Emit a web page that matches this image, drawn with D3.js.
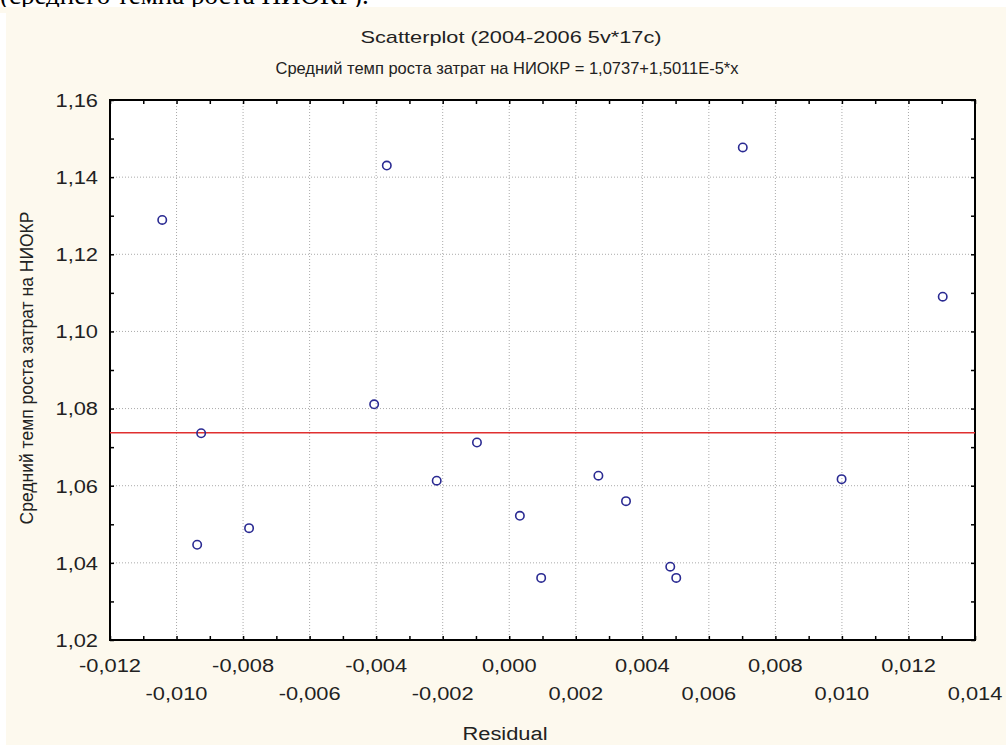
<!DOCTYPE html>
<html>
<head>
<meta charset="utf-8">
<script src="https://cdn.jsdelivr.net/npm/d3@7"></script>
<style>
  html, body { margin: 0; padding: 0; background: #fff; }
  svg { display: block; }
</style>
</head>
<body>
<svg id="chart" width="1006" height="745"></svg>
<script>
// residuals vs mean growth rate of R&D spending, 17 cases
const residuals = [
  -0.01043, -0.00368, -0.00926, -0.00938, -0.00782, -0.00406, -0.00218, -0.00097,
   0.00032,  0.00096,  0.00268,  0.00351,  0.00484,  0.00502,  0.00999,  0.00702, 0.01303
];
const growth = [
  1.1289, 1.1430, 1.0736, 1.0447, 1.0490, 1.0811, 1.0613, 1.0712,
  1.0522, 1.0361, 1.0626, 1.0560, 1.0390, 1.0361, 1.0617, 1.1477, 1.1090
];
const xTicks = [-0.012, -0.010, -0.008, -0.006, -0.004, -0.002, 0, 0.002, 0.004, 0.006, 0.008, 0.010, 0.012, 0.014];
const yTicks = [1.02, 1.04, 1.06, 1.08, 1.10, 1.12, 1.14, 1.16];
const fitA = 1.0737, fitB = 1.5011e-5;

const svg = d3.select("#chart");
const pLeft = 110, pRight = 975, pTop = 100, pBottom = 640;

const x = d3.scaleLinear().domain([-0.012, 0.014]).range([pLeft, pRight]);
const y = d3.scaleLinear().domain([1.02, 1.16]).range([pBottom, pTop]);
const comma = (v, n) => v.toFixed(n).replace(".", ",").replace("-0,000", "0,000");

// beige page background with a white strip at the very top / left
svg.append("rect").attr("x", 6).attr("y", 7).attr("width", 1000).attr("height", 738).attr("fill", "#fdf9ee");

// cut-off line of document text above the picture
svg.append("text")
  .attr("x", 0).attr("y", 4)
  .attr("font-family", "'Liberation Serif', serif")
  .attr("font-size", 27)
  .attr("fill", "#000")
  .text("(среднего темпа роста НИОКР).");
svg.append("rect").attr("x", 0).attr("y", 7).attr("width", 1006).attr("height", 6).attr("fill", "#fdf9ee");

// plot area
svg.append("rect").attr("x", pLeft).attr("y", pTop).attr("width", pRight - pLeft).attr("height", pBottom - pTop).attr("fill", "#fff");

// grid
svg.append("g").selectAll("line")
  .data(xTicks.slice(1, -1))
  .join("line")
  .attr("x1", d => x(d)).attr("x2", d => x(d))
  .attr("y1", pTop).attr("y2", pBottom)
  .attr("stroke", "#aaa").attr("stroke-width", 1).attr("stroke-dasharray", "1,2");
svg.append("g").selectAll("line")
  .data(yTicks.slice(1, -1))
  .join("line")
  .attr("y1", d => y(d)).attr("y2", d => y(d))
  .attr("x1", pLeft).attr("x2", pRight)
  .attr("stroke", "#aaa").attr("stroke-width", 1).attr("stroke-dasharray", "1,2");

// inward ticks on all four sides (major + minor)
const xMinor = d3.range(-0.012, 0.0141, 0.001);
const yMinor = d3.range(1.02, 1.1601, 0.01);
const tick = 4;
svg.append("g").call(d3.axisBottom(x).tickValues(xMinor).tickSize(tick).tickFormat(""))
  .attr("transform", `translate(0,${pTop})`);
svg.append("g").call(d3.axisTop(x).tickValues(xMinor).tickSize(tick).tickFormat(""))
  .attr("transform", `translate(0,${pBottom})`);
svg.append("g").call(d3.axisRight(y).tickValues(yMinor).tickSize(tick).tickFormat(""))
  .attr("transform", `translate(${pLeft},0)`);
svg.append("g").call(d3.axisLeft(y).tickValues(yMinor).tickSize(tick).tickFormat(""))
  .attr("transform", `translate(${pRight},0)`);
svg.selectAll(".domain").remove();
svg.selectAll(".tick line").attr("stroke", "#000").attr("stroke-width", 1.5);

// frame
svg.append("rect").attr("x", pLeft).attr("y", pTop).attr("width", pRight - pLeft).attr("height", pBottom - pTop)
  .attr("fill", "none").attr("stroke", "#000").attr("stroke-width", 2);

// regression line
svg.append("line")
  .attr("x1", x(-0.012)).attr("x2", x(0.014))
  .attr("y1", y(fitA + fitB * -0.012)).attr("y2", y(fitA + fitB * 0.014))
  .attr("stroke", "#e03030").attr("stroke-width", 1.5);

// points
svg.append("g").selectAll("circle")
  .data(residuals.map((r, i) => [r, growth[i]]))
  .join("circle")
  .attr("cx", d => x(d[0])).attr("cy", d => y(d[1]))
  .attr("r", 4.2)
  .attr("fill", "none").attr("stroke", "#2a2a92").attr("stroke-width", 1.6);

const font = "'Liberation Sans', Arial, sans-serif";
const stretch = 1.15;

// y tick labels
svg.append("g").selectAll("text")
  .data(yTicks)
  .join("text")
  .attr("transform", d => `translate(98,${y(d)}) scale(${stretch},1)`)
  .attr("dy", "0.36em")
  .attr("text-anchor", "end")
  .attr("font-family", font).attr("font-size", 19).attr("fill", "#222")
  .text(d => comma(d, 2));

// x tick labels, staggered in two rows
svg.append("g").selectAll("text")
  .data(xTicks)
  .join("text")
  .attr("transform", (d, i) => `translate(${x(d)},${i % 2 === 0 ? 665 : 693}) scale(${stretch},1)`)
  .attr("dy", "0.36em")
  .attr("text-anchor", "middle")
  .attr("font-family", font).attr("font-size", 19).attr("fill", "#222")
  .text(d => comma(d, 3));

// titles
svg.append("text").attr("transform", `translate(511,37) scale(1.28,1)`).attr("dy", "0.36em")
  .attr("text-anchor", "middle").attr("font-family", font).attr("font-size", 17).attr("fill", "#222")
  .text("Scatterplot (2004-2006 5v*17c)");
svg.append("text").attr("x", 507).attr("y", 68).attr("dy", "0.36em")
  .attr("text-anchor", "middle").attr("font-family", font).attr("font-size", 17).attr("fill", "#222")
  .attr("textLength", 463).attr("lengthAdjust", "spacingAndGlyphs")
  .text("Средний темп роста затрат на НИОКР = 1,0737+1,5011E-5*x");
svg.append("text").attr("transform", `translate(505,733) scale(${stretch},1)`).attr("dy", "0.36em")
  .attr("text-anchor", "middle").attr("font-family", font).attr("font-size", 19).attr("fill", "#222")
  .text("Residual");
svg.append("text")
  .attr("transform", "translate(27,368) rotate(-90)")
  .attr("dy", "0.36em")
  .attr("text-anchor", "middle").attr("font-family", font).attr("font-size", 17.5).attr("fill", "#222")
  .text("Средний темп роста затрат на НИОКР");
</script>
</body>
</html>
